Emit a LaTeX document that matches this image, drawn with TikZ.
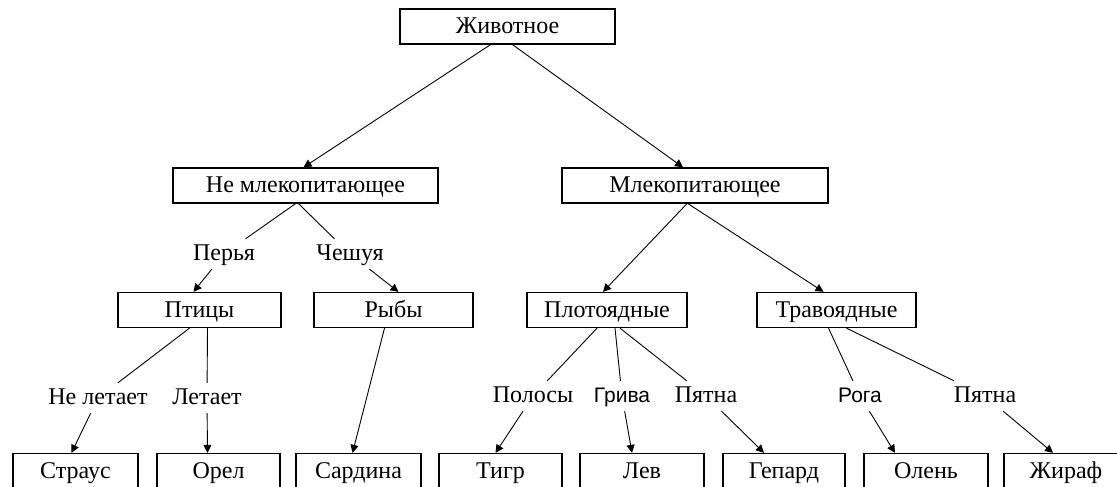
\documentclass[tikz,border=0pt]{standalone}
\usepackage{fontspec}
\setmainfont{Liberation Serif}
\newfontfamily\lblsans{Liberation Sans}
\usetikzlibrary{arrows.meta}

\begin{document}
\begin{tikzpicture}[x=1pt, y=-1pt,
    box/.style = {draw, line width=1.3pt, minimum height=35pt, inner sep=0pt,
                  text height=16pt, text depth=2pt,
                  font=\fontsize{24}{28}\selectfont},
    lbl/.style = {inner sep=5pt, text height=16pt, text depth=4pt,
                  font=\fontsize{24}{28}\selectfont},
    slbl/.style = {lbl, font=\lblsans\fontsize{21}{24}\selectfont},
    ln/.style = {line width=0.9pt},
    arr/.style = {ln, -{Triangle[length=8pt,width=8pt]}}]
        \useasboundingbox (0,0) rectangle (1117,487);
        % boxes
        \node[box, minimum width=215pt] (animal) at (507.5,26.5) {Животное};
        \node[box, minimum width=265pt] (nonmammal) at (305.5,185.5) {Не млекопитающее};
        \node[box, minimum width=266pt] (mammal) at (695,185.5) {Млекопитающее};
        \node[box, minimum width=163pt] (birds) at (199.5,310) {Птицы};
        \node[box, minimum width=159pt] (fish) at (393.5,310) {Рыбы};
        \node[box, minimum width=160pt] (carniv) at (607,310) {Плотоядные};
        \node[box, minimum width=159pt] (herbiv) at (836.5,310) {Травоядные};
        \node[box, minimum width=125pt] (ostrich) at (75.5,471) {Страус};
        \node[box, minimum width=123pt] (eagle) at (218.5,471) {Орел};
        \node[box, minimum width=125pt] (sardine) at (358.5,471) {Сардина};
        \node[box, minimum width=123pt] (tiger) at (500.5,471) {Тигр};
        \node[box, minimum width=124pt] (lion) at (642,471) {Лев};
        \node[box, minimum width=122pt] (cheetah) at (784,471) {Гепард};
        \node[box, minimum width=124pt] (deer) at (926,471) {Олень};
        \node[box, minimum width=124pt] (giraffe) at (1066,471) {Жираф};
        % labels
        \node[lbl] (feathers) at (224,254) {Перья};
        \node[lbl] (scales) at (350,254) {Чешуя};
        \node[lbl] (nofly) at (98,398) {Не летает};
        \node[lbl] (fly) at (207,398) {Летает};
        \node[lbl] (stripes) at (533,396) {Полосы};
        \node[slbl] (mane) at (622,396) {Грива};
        \node[lbl] (spots1) at (706,396) {Пятна};
        \node[slbl] (horns) at (860,396) {Рога};
        \node[lbl] (spots2) at (985,396) {Пятна};
        %
        \draw[arr] ([xshift=-17pt]animal.south) -- ([xshift=-2pt]nonmammal.north);
        \draw[arr] ([xshift=5pt]animal.south) -- ([xshift=-12pt]mammal.north);
        \draw[ln] ([xshift=-10pt]nonmammal.south) -- (feathers);
        \draw[arr] (feathers) -- ([xshift=-6pt]birds.north);
        \draw[ln] ([xshift=-7pt]nonmammal.south) -- (scales);
        \draw[arr] (scales) -- ([xshift=5pt]fish.north);
        \draw[arr] ([xshift=-8pt]mammal.south) -- ([xshift=-4pt]carniv.north);
        \draw[arr] ([xshift=-7pt]mammal.south) -- ([xshift=-13pt]herbiv.north);
        \draw[ln] ([xshift=-10pt]birds.south) -- (nofly);
        \draw[arr] (nofly) -- ([xshift=-4pt]ostrich.north);
        \draw[ln] ([xshift=8pt]birds.south) -- (fly);
        \draw[arr] (fly) -- ([xshift=-11pt]eagle.north);
        \draw[arr] ([xshift=-9pt]fish.south) -- ([xshift=-6pt]sardine.north);
        \draw[ln] ([xshift=-10pt]carniv.south) -- (stripes);
        \draw[arr] (stripes) -- ([xshift=-5pt]tiger.north);
        \draw[ln] ([xshift=8pt]carniv.south) -- (mane);
        \draw[arr] (mane) -- ([xshift=-10pt]lion.north);
        \draw[ln] ([xshift=13pt]carniv.south) -- (spots1);
        \draw[arr] (spots1) -- ([xshift=-20pt]cheetah.north);
        \draw[ln] ([xshift=-8pt]herbiv.south) -- (horns);
        \draw[arr] (horns) -- ([xshift=-31pt]deer.north);
        \draw[ln] ([xshift=10pt]herbiv.south) -- (spots2);
        \draw[arr] (spots2) -- ([xshift=-13pt]giraffe.north);
      \end{tikzpicture}
\end{document}
